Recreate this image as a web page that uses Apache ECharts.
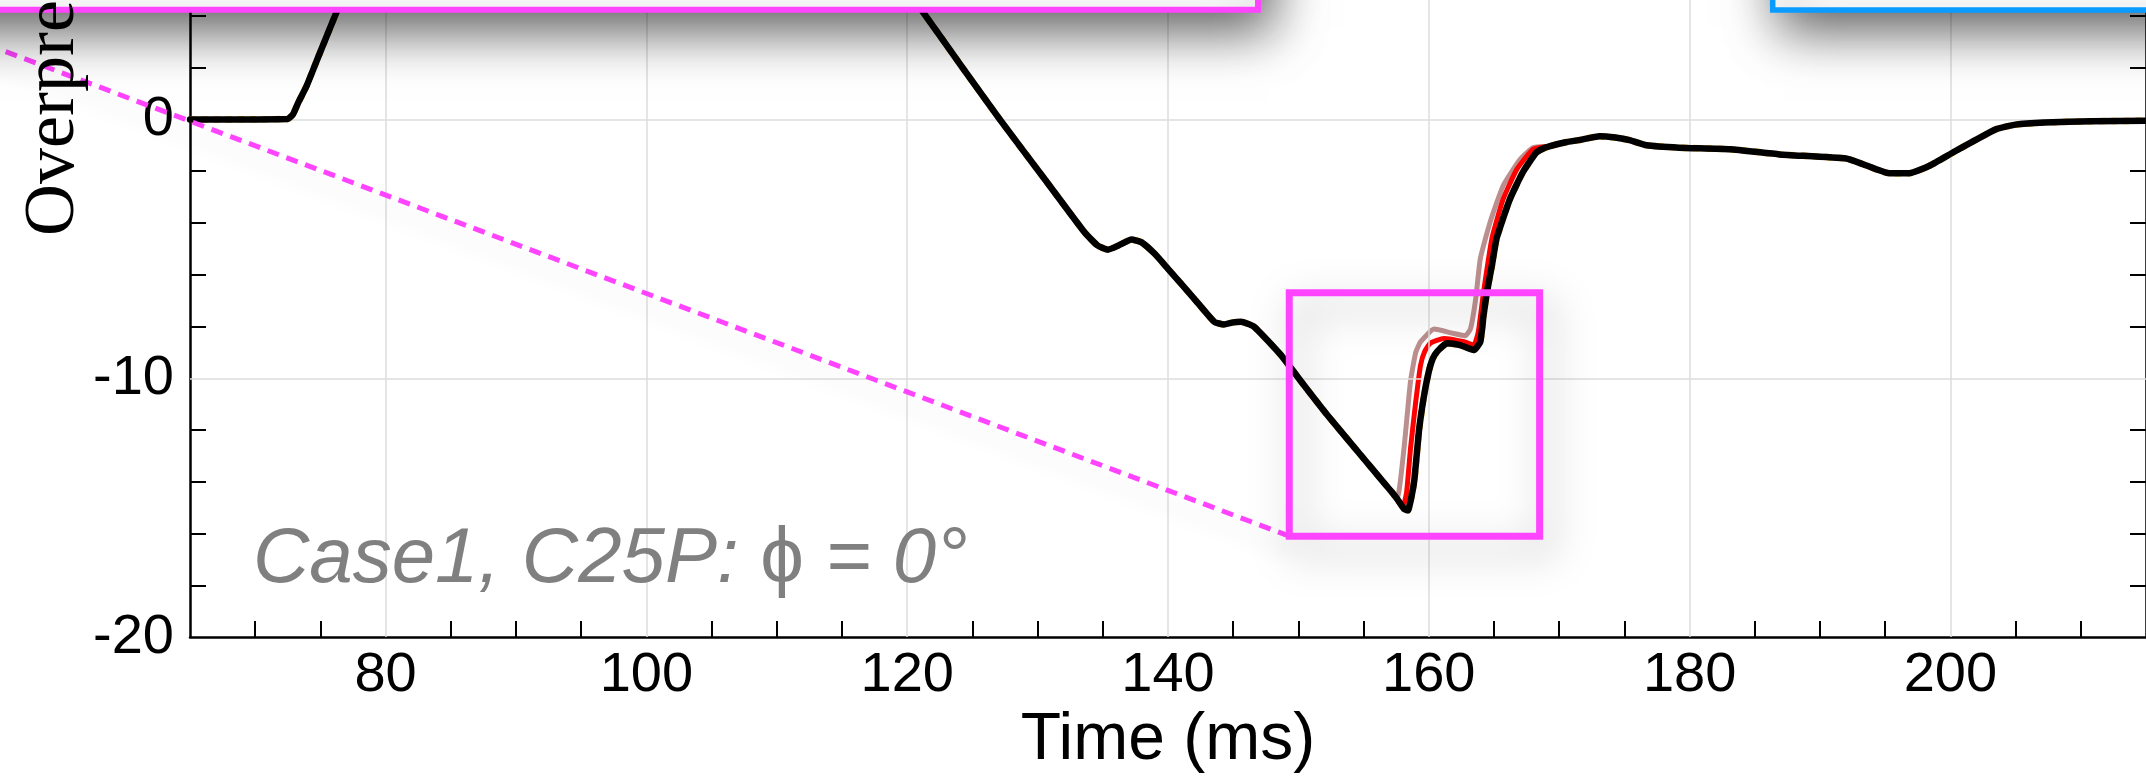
<!DOCTYPE html>
<html><head><meta charset="utf-8">
<script src="https://cdn.jsdelivr.net/npm/echarts@6/dist/echarts.min.js"></script>
<style>html,body{margin:0;padding:0;background:#fff}#c{width:2146px;height:779px}</style>
</head><body><div id="c"></div>
<script>
// Axes
const X_MIN = 65, X_MAX = 215;
const Y_MIN = -20, Y_MAX = 4.615;
const X_LABELS = [80, 100, 120, 140, 160, 180, 200];
const X_TICKS = [70, 75, 85, 90, 95, 105, 110, 115, 125, 130, 135, 145, 150, 155, 165, 170, 175, 185, 190, 195, 205, 210];
const Y_LABELS = [-20, -10, 0];
const Y_TICKS = [-18, -16, -14, -12, -8, -6, -4, -2, 2, 4];
const X_GRID = [80, 100, 120, 140, 160, 180, 200];
const Y_GRID = [-10, 0];

// Shared part of all curves (time ms, overpressure kPa)
const HEAD = [[65,0],[72.5,0.02],[72.9,0.2],[73.3,0.65],[73.93,1.28],[74.95,2.56],[76.2,4.1],[77,5.1],[78.5,7.0],[80,9],[84,14],[90,19],[100,17],[110,11],[116,7.5],[119,5.7],[121.24,4.13],[124.17,2.05],[127.1,0],[130.55,-2.31],[133.6,-4.36],[134.6,-4.87],[135.4,-5.03],[136.2,-4.87],[137.2,-4.64],[137.95,-4.74],[139,-5.2],[140,-5.77],[142,-6.92],[143.55,-7.82],[144.3,-7.92],[145.0,-7.84],[145.6,-7.82],[146.6,-8.01],[148.65,-9.1],[150.4,-10.25],[152.2,-11.41],[155,-13.1],[156.5,-14.0]];
const TAIL = [[169.3,-1.03],[170.5,-0.88],[171.5,-0.8],[173.1,-0.65],[174.3,-0.7],[175.4,-0.8],[176.7,-1.0],[179.2,-1.09],[183.1,-1.15],[186.9,-1.35],[192.0,-1.51],[193.3,-1.73],[195.3,-2.08],[196.85,-2.08],[198.4,-1.79],[200.4,-1.22],[203.5,-0.38],[205,-0.2],[207.2,-0.12],[210.9,-0.07],[215,-0.05]];
// Parts that differ around the minimum
const BLACK_MID = [[157.2,-14.42],[157.6,-14.68],[158.1,-15.05],[158.4,-15.1],[158.7,-14.5],[158.9,-13.9],[159.24,-12.05],[159.6,-10.77],[160.0,-9.74],[160.3,-9.25],[160.64,-8.97],[161.4,-8.65],[162.4,-8.72],[163.45,-8.91],[163.95,-8.59],[164.2,-7.56],[164.46,-6.67],[164.84,-5.64],[165.2,-4.6],[166.2,-3.1],[167.2,-2.05],[168.2,-1.3],[168.7,-1.14]];
const ORANGE_MID = [[157.2,-14.42],[157.6,-14.68],[158.1,-15.05],[158.4,-15.1],[158.7,-14.5],[158.9,-13.9],[159.24,-12.05],[159.6,-10.77],[160.0,-9.74],[160.3,-9.25],[160.64,-8.97],[161.4,-8.65],[162.4,-8.72],[163.45,-8.91],[163.95,-8.59],[164.2,-7.56],[164.46,-6.67],[164.84,-5.64],[165.2,-4.6],[166.2,-3.1],[167.2,-2.05],[168.2,-1.3],[168.7,-1.14]];
const RED_MID = [[157.2,-14.42],[157.6,-14.7],[158.0,-15.0],[158.3,-14.4],[158.6,-12.7],[159.0,-10.9],[159.37,-9.49],[159.7,-8.95],[160.1,-8.65],[161.15,-8.46],[162.7,-8.59],[163.45,-8.72],[163.8,-8.2],[164.2,-6.67],[164.84,-4.6],[165.7,-3.08],[166.76,-1.92],[168.0,-1.15]];
const ROSY_MID = [[157.2,-14.42],[157.6,-14.6],[158.1,-12.7],[158.6,-10.1],[159.0,-9.0],[159.37,-8.59],[160.4,-8.1],[161.9,-8.27],[162.8,-8.36],[163.2,-8.08],[163.6,-6.92],[163.95,-5.38],[164.7,-3.97],[165.7,-2.56],[167.0,-1.54],[168.0,-1.09]];

// Zoom box & connector
const ZOOM_BOX_X = [149.3, 168.5];
const ZOOM_BOX_Y = [-16.1, -6.7];
const CONNECTOR = [[149.3, -16.1], [42.4, 4.23]];

const PINK = '#ff44ff';
const chart = echarts.init(document.getElementById('c'), null, {renderer: 'canvas'});

function curve(name, mid, color, width, z, extra) {
  return Object.assign({
    name, type: 'line', data: HEAD.concat(mid, TAIL), showSymbol: false, symbol: 'none',
    smooth: 0.15, z, silent: true, animation: false,
    lineStyle: {color, width, cap: 'round', join: 'round'}
  }, extra || {});
}

const boxData = [[ZOOM_BOX_X[0], ZOOM_BOX_Y[1]], [ZOOM_BOX_X[1], ZOOM_BOX_Y[1]], [ZOOM_BOX_X[1], ZOOM_BOX_Y[0]], [ZOOM_BOX_X[0], ZOOM_BOX_Y[0]], [ZOOM_BOX_X[0], ZOOM_BOX_Y[1]]];

const axisFont = 'Liberation Sans';
const baseGraphic = [
  {id: 'topPink', type: 'rect', z: 100, silent: true, shape: {x: -300, y: -400, width: 1558, height: 409.7},
    style: {fill: '#fff', stroke: PINK, lineWidth: 6, shadowBlur: 50, shadowOffsetX: 10, shadowOffsetY: 16, shadowColor: 'rgba(0,0,0,0.65)'}},
  {id: 'topBlue', type: 'rect', z: 100, silent: true, shape: {x: 1772.7, y: -400, width: 700, height: 410},
    style: {fill: '#fff', stroke: '#0a9bff', lineWidth: 5.5, shadowBlur: 50, shadowOffsetX: 10, shadowOffsetY: 16, shadowColor: 'rgba(0,0,0,0.65)'}},
  {id: 'yname', type: 'text', z: 101, silent: true, x: 54, y: 236, rotation: Math.PI / 2,
    style: {text: 'Overpressure (kPa)', font: '72px "Liberation Serif"', fill: '#000', align: 'left', verticalAlign: 'middle', textAlign: 'left', textVerticalAlign: 'middle'}},
  {id: 'caseText', type: 'text', z: 101, silent: true, x: 253, y: 560,
    style: {text: '{a|Case1, C25P: }{b|ϕ}{a| = 0°}', align: 'left', verticalAlign: 'middle', textAlign: 'left', textVerticalAlign: 'middle',
      fill: '#808080', font: 'italic 78px "Liberation Sans"',
      rich: {a: {fontStyle: 'italic', fontSize: 78, fontFamily: 'Liberation Sans', fill: '#808080', color: '#808080'},
             b: {fontStyle: 'normal', fontSize: 78, fontFamily: 'Liberation Sans', fill: '#808080', color: '#808080'}}}}
];

const option = {
  animation: false,
  backgroundColor: '#fff',
  grid: {left: 190, top: 0, width: 1961, height: 640, containLabel: false},
  xAxis: {
    type: 'value', min: X_MIN, max: X_MAX, interval: 5,
    axisLine: {show: true, onZero: false, lineStyle: {color: '#000', width: 2.5}},
    axisTick: {show: true, inside: true, length: 16, customValues: X_TICKS, lineStyle: {color: '#000', width: 2}},
    axisLabel: {customValues: X_LABELS, fontSize: 56, fontFamily: axisFont, color: '#000', margin: 10,
      formatter: v => X_LABELS.includes(v) ? String(v) : ''},
    splitLine: {show: false},
    name: 'Time (ms)', nameLocation: 'middle', nameGap: 68,
    nameTextStyle: {fontSize: 66, fontFamily: axisFont, color: '#000'}
  },
  yAxis: [{
    type: 'value', min: Y_MIN, max: Y_MAX, interval: 2, position: 'left',
    axisLine: {show: true, onZero: false, lineStyle: {color: '#000', width: 2.5}},
    axisTick: {show: true, inside: true, length: 16, customValues: Y_TICKS, lineStyle: {color: '#000', width: 2}},
    axisLabel: {customValues: Y_LABELS, fontSize: 56, fontFamily: axisFont, color: '#000', margin: 16,
      formatter: v => Y_LABELS.includes(v) ? String(v) : ''},
    splitLine: {show: false}
  }, {
    type: 'value', min: Y_MIN, max: Y_MAX, interval: 2, position: 'right',
    axisLine: {show: true, onZero: false, lineStyle: {color: '#000', width: 2.5}},
    axisTick: {show: true, inside: true, length: 16, customValues: Y_TICKS, lineStyle: {color: '#000', width: 2}},
    axisLabel: {show: false},
    splitLine: {show: false}
  }],
  series: [
    {type: 'line', data: [], z: 1, silent: true,
      markLine: {silent: true, symbol: 'none', animation: false, label: {show: false},
        lineStyle: {color: '#dcdcdc', width: 1.5, type: 'solid'},
        data: X_GRID.map(v => ({xAxis: v})).concat(Y_GRID.map(v => ({yAxis: v})))}},
    curve('rosy', ROSY_MID, '#bc8f8f', 5, 2),
    curve('orange', ORANGE_MID, '#ffa500', 5, 3, {lineStyle: {color: '#ffa500', width: 6.5, type: [6, 6]}}),
    curve('red', RED_MID, '#ff0000', 5, 4),
    curve('black', BLACK_MID, '#000000', 6.5, 5),
    {type: 'line', data: boxData, clip: false, z: 7, silent: true, symbol: 'none', showSymbol: false,
      lineStyle: {color: PINK, width: 7, join: 'miter', cap: 'square', shadowBlur: 40, shadowOffsetX: 8, shadowOffsetY: 14, shadowColor: 'rgba(0,0,0,0.35)'}}
  ],
  graphic: baseGraphic
};
chart.setOption(option);

// Connector dashed line, positioned through the chart's own scales
const p0 = chart.convertToPixel({gridIndex: 0}, CONNECTOR[0]);
const p1 = chart.convertToPixel({gridIndex: 0}, CONNECTOR[1]);
chart.setOption({graphic: baseGraphic.concat([{
  id: 'connector', type: 'line', z: 6, silent: true,
  shape: {x1: p0[0], y1: p0[1], x2: p1[0], y2: p1[1]},
  style: {stroke: PINK, lineWidth: 5, lineDash: [12, 8], shadowBlur: 20, shadowOffsetY: 14, shadowColor: 'rgba(0,0,0,0.12)'}
}])});
</script></body></html>
